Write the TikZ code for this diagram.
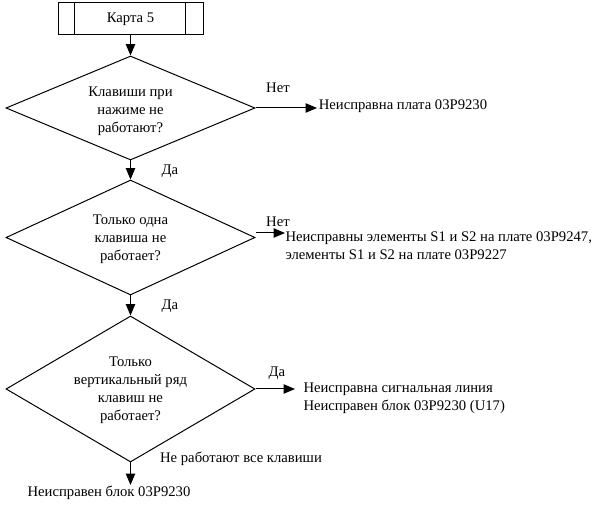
\documentclass[tikz,border=0pt]{standalone}
\usepackage{fontspec}
\setmainfont{Liberation Serif}
\usetikzlibrary{shapes.geometric, arrows.meta}

\begin{document}
\begin{tikzpicture}[x=0.75pt, y=-0.75pt, line width=0.75pt,
    every node/.style={font=\rmfamily\fontsize{11}{13.5}\selectfont},
    decision/.style={diamond, draw, minimum width=186.75pt, inner sep=0pt},
    txt/.style={align=center, inner sep=0pt},
    arr/.style={-{Triangle[length=8.5pt, width=7pt]}}]
    \useasboundingbox (0,0) rectangle (597,505);

    % Nodes
    \node[draw, minimum width=108.75pt, minimum height=24pt] (card) at (130.5,19) {Карта 5};
    \node[decision, minimum height=78pt] (D1) at (130.5,108) {};
    \node[txt] (T1) at (130.5,111) {Клавиши при\\нажиме не\\работают?};
    \node[decision, minimum height=86.25pt] (D2) at (130.5,237.5) {};
    \node[txt] (T2) at (130.5,239) {Только одна\\клавиша не\\работает?};
    \node[decision, minimum height=109.5pt] (D3) at (130.5,389) {};
    \node[txt] (T3) at (130.5,390) {Только\\вертикальный ряд\\клавиш не\\работает?};

    \node[anchor=west, inner sep=1pt] (R1) at (317,106) {Неисправна плата 03P9230};
    \node[anchor=north west, align=left, inner sep=0pt] (R2) at (285,231) {Неисправны элементы S1 и S2 на плате 03P9247,\\элементы S1 и S2 на плате 03P9227};
    \node[anchor=north west, align=left, inner sep=0pt] (R3) at (303,382) {Неисправна сигнальная линия\\Неисправен блок 03P9230 (U17)};
    \node[inner sep=1pt] (R4) at (109,493) {Неисправен блок 03P9230};

    \node (L1) at (278,88) {Нет};
    \node (L2) at (170,171) {Да};
    \node (L3) at (278,222) {Нет};
    \node (L4) at (170,306) {Да};
    \node (L5) at (277,373) {Да};
    \node (L6) at (241,459) {Не работают все клавиши};

    \coordinate (E2) at (285,233);
    \coordinate (E3) at (295,389);
    \coordinate (E4) at (130.5,485);

    % Edges
    \draw ([xshift=12.75pt]card.north west) -- ([xshift=12.75pt]card.south west);
    \draw ([xshift=-13.5pt]card.north east) -- ([xshift=-13.5pt]card.south east);
    \draw[arr] (card) -- (D1);
    \draw[arr] (D1) -- (D2);
    \draw[arr] (D2) -- (D3);
    \draw[arr] (D3) -- (E4);
    \draw[arr] (D1.east) -- (R1.west |- D1.east);
    \draw[arr] (D2.east |- E2) -- (E2);
    \draw[arr] (D3.east) -- (E3);
\end{tikzpicture}
\end{document}
